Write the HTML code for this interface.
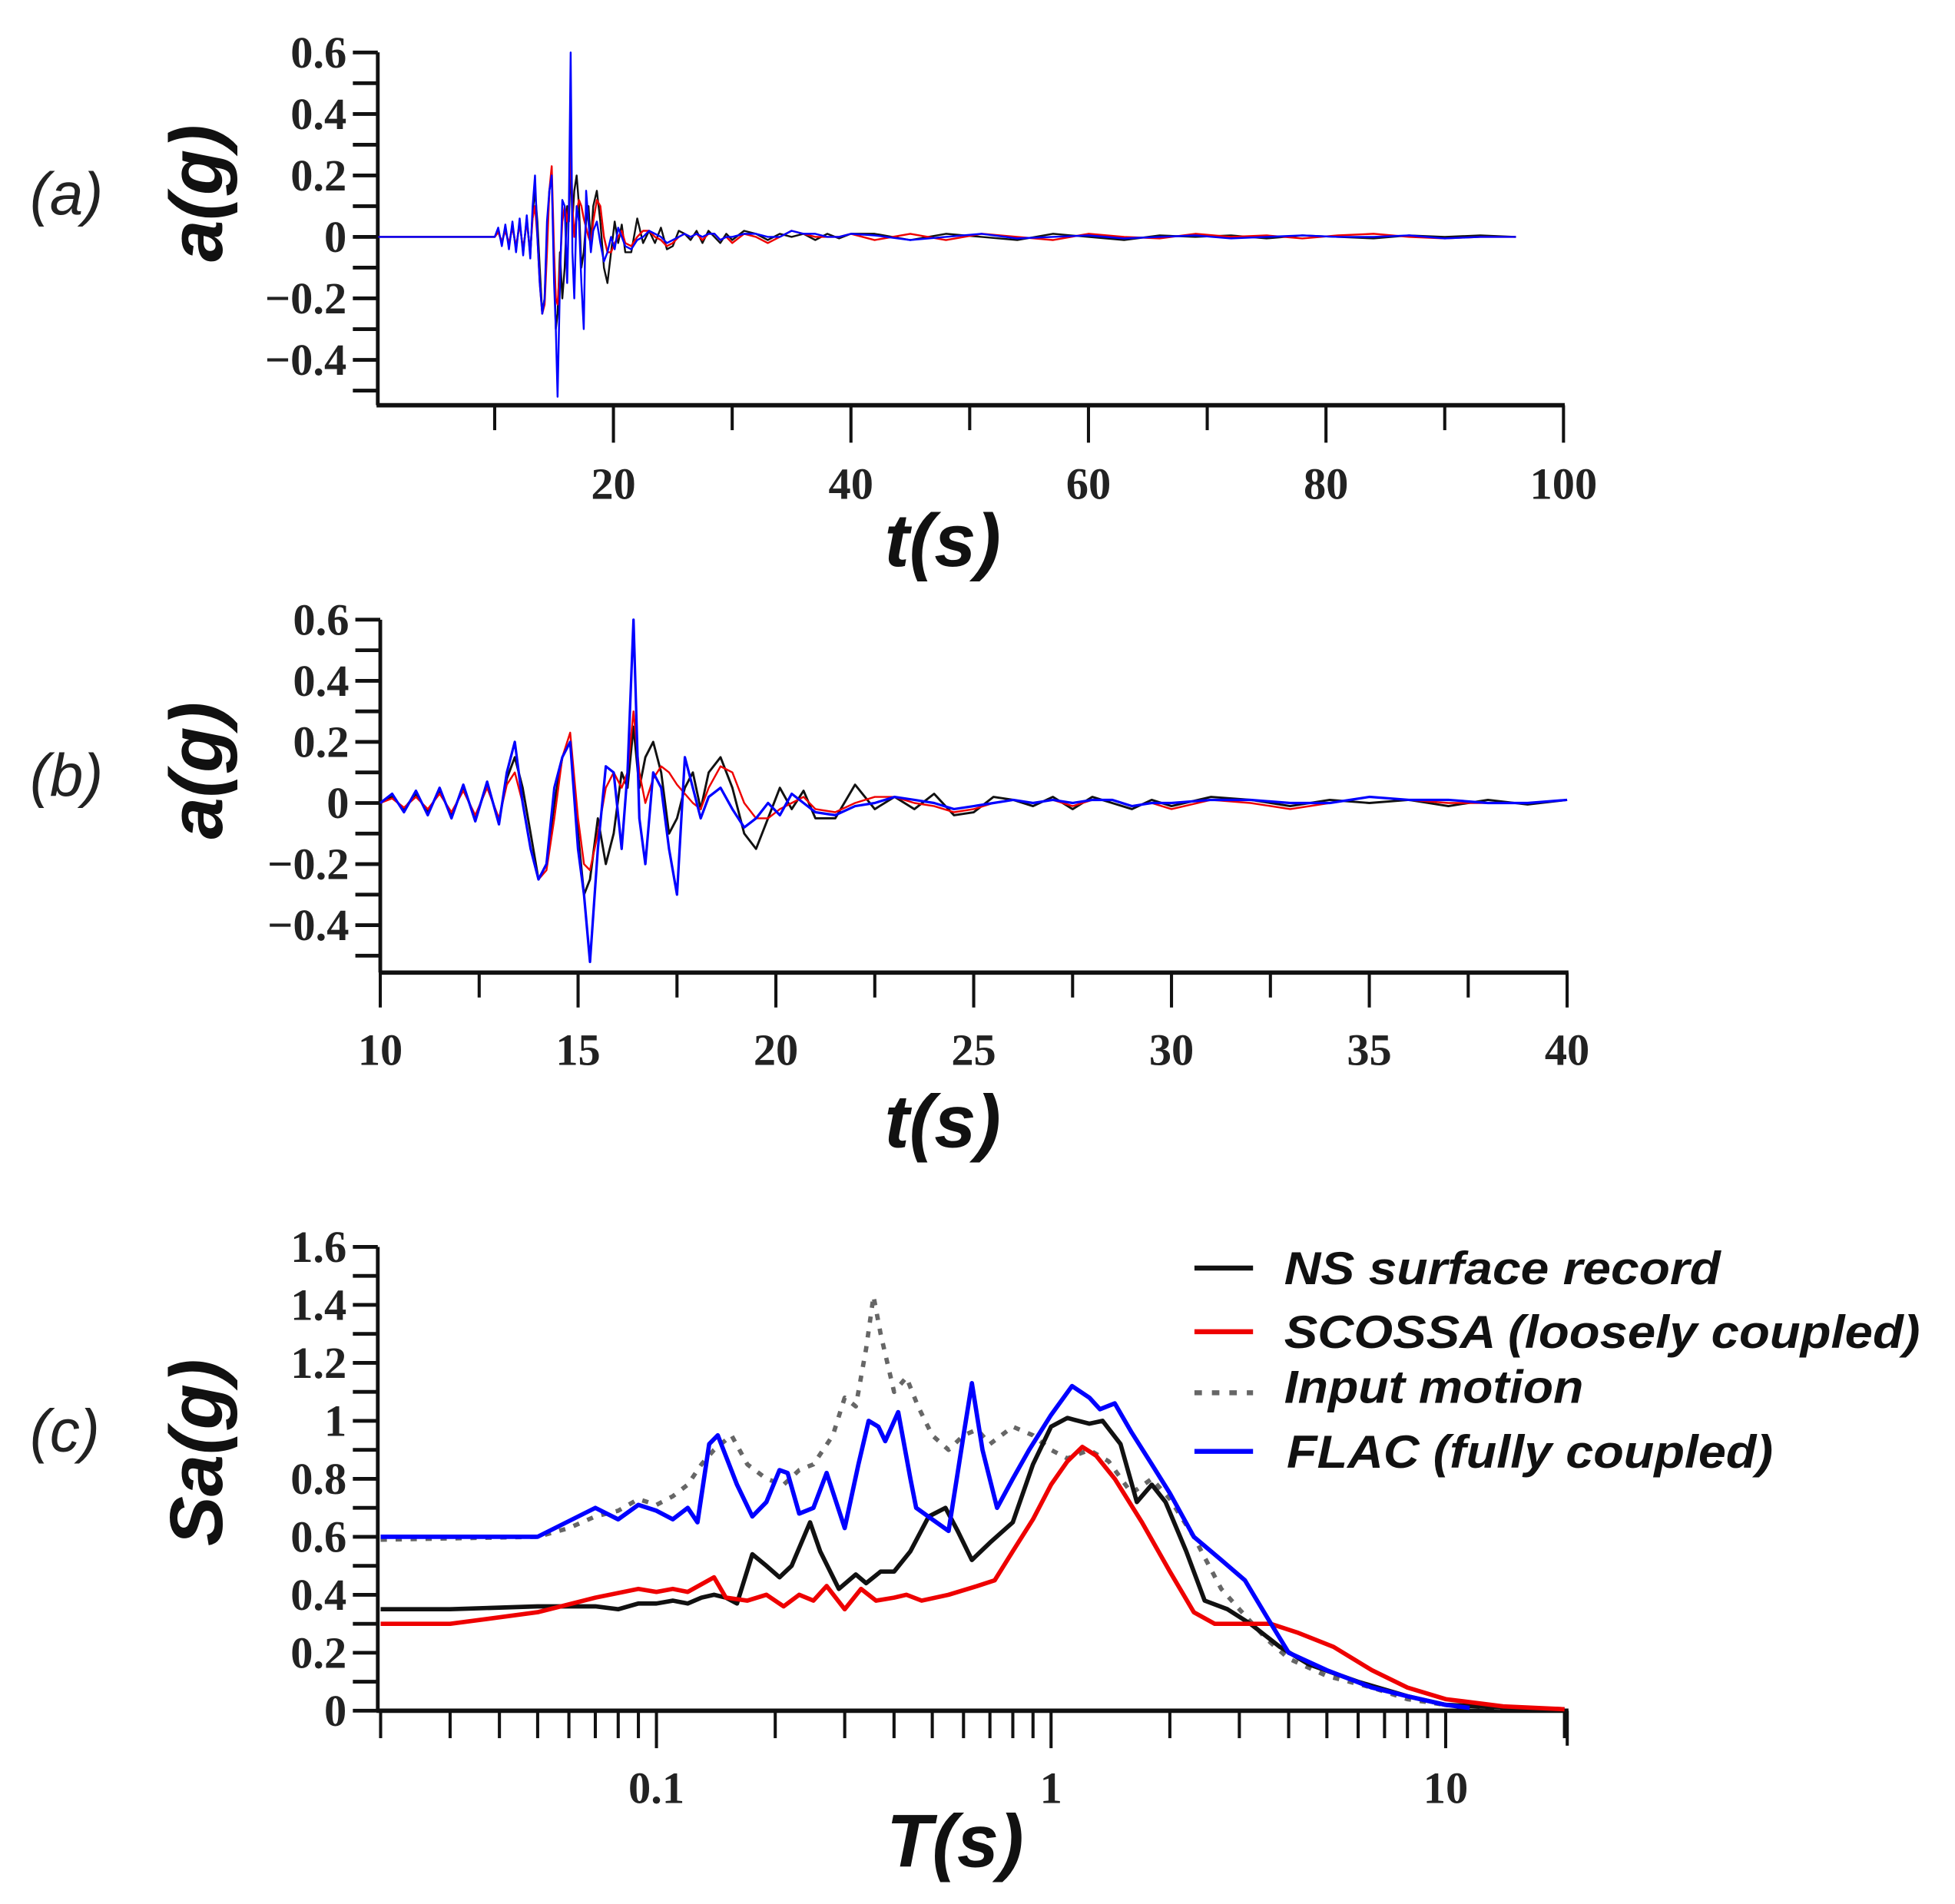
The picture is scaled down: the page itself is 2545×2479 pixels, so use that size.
<!DOCTYPE html>
<html><head><meta charset="utf-8"><style>
html,body{margin:0;padding:0;background:#fff;}
svg{display:block;}
.tl{font-family:"Liberation Serif",serif;font-weight:bold;font-size:36px;fill:#222;}
.tt{font-family:"Liberation Sans",sans-serif;font-weight:bold;font-style:italic;font-size:60px;fill:#111;}
.pl{font-family:"Liberation Sans",sans-serif;font-style:italic;font-size:48px;fill:#222;}
.lg{font-family:"Liberation Sans",sans-serif;font-weight:bold;font-style:italic;font-size:37px;fill:#111;}
</style></head><body>
<svg id="fig" width="2545" height="2479" viewBox="0 0 1568 1527" preserveAspectRatio="none" xmlns="http://www.w3.org/2000/svg">
<g id="pa"></g>
<g id="pb"></g>
<g id="pc"></g>
<text class="pl" x="24" y="172">(a)</text>
<text class="pl" x="24" y="638">(b)</text>
<text class="pl" x="24" y="1164">(c)</text>
<text class="tt" transform="translate(178,155) rotate(-90)" text-anchor="middle">a(g)</text>
<text class="tt" transform="translate(178,618) rotate(-90)" text-anchor="middle">a(g)</text>
<text class="tt" transform="translate(178,1165) rotate(-90)" text-anchor="middle">Sa(g)</text>
<text class="tt" x="756" y="454" text-anchor="middle">t(s)</text>
<text class="tt" x="756" y="920" text-anchor="middle">t(s)</text>
<text class="tt" x="766" y="1497" text-anchor="middle">T(s)</text>
<g>
<g><line x1="958" y1="1017" x2="1005" y2="1017" stroke="#111" stroke-width="4"/><text class="lg" x="1030" y="1030" textLength="350" lengthAdjust="spacingAndGlyphs">NS surface record</text></g>
<g><line x1="958" y1="1068" x2="1005" y2="1068" stroke="#e00" stroke-width="4"/><text class="lg" x="1030" y="1081" textLength="510" lengthAdjust="spacingAndGlyphs">SCOSSA (loosely coupled)</text></g>
<g><line x1="958" y1="1117" x2="1005" y2="1117" stroke="#666" stroke-width="4" stroke-dasharray="6,8"/><text class="lg" x="1030" y="1125" textLength="240" lengthAdjust="spacingAndGlyphs">Input motion</text></g>
<g><line x1="958" y1="1164" x2="1005" y2="1164" stroke="#00f" stroke-width="4"/><text class="lg" x="1032" y="1177" textLength="390" lengthAdjust="spacingAndGlyphs">FLAC (fully coupled)</text></g>
</g>
</svg>
<script>
const tB=[10,10.3,10.6,10.9,11.2,11.5,11.8,12.1,12.4,12.7, 13.0,13.2,13.4,13.6,13.8,14.0,14.2,14.4,14.6,14.8, 15.0,15.15,15.3,15.5,15.7,15.9,16.1,16.25,16.4,16.55, 16.7,16.9,17.1,17.3,17.5,17.7,17.9,18.1,18.3,18.6, 18.9,19.2,19.5,19.8,20.1,20.4,20.7,21.0,21.5,22, 22.5,23,23.5,24,24.5,25,25.5,26,26.5,27, 27.5,28,28.5,29,29.5,30,31,32,33,34, 35,36,37,38,39,40];
const blackA=[0,.02,-.02,.03,-.03,.04,-.04,.05,-.05,.06, -.06,.08,.15,.05,-.1,-.25,-.2,0,.15,.2, -.1,-.3,-.25,-.05,-.2,-.1,.1,.05,.25,.05, .15,.2,.1,-.1,-.05,.05,.1,-.02,.1,.15, .05,-.1,-.15,-.05,.05,-.02,.04,-.05,-.05,.06, -.02,.02,-.02,.03,-.04,-.03,.02,.01,-.01,.02, -.02,.02,0,-.02,.01,-.01,.02,.01,-.01,.01, 0,.01,-.01,.01,-.005,.01];
const redA=[0,.015,-.015,.02,-.02,.03,-.03,.04,-.04,.05, -.05,.06,.1,0,-.15,-.25,-.22,-.05,.15,.23, -.05,-.2,-.22,-.1,.05,.1,.05,.1,.3,.1, 0,.08,.12,.1,.06,.03,0,-.02,.05,.12, .1,0,-.05,-.05,-.02,0,.02,-.02,-.03,0, .02,.02,0,-.01,-.03,-.02,0,.01,0,.01, -.01,.01,.01,-.01,0,-.02,.01,0,-.02,0, .02,.01,0,0,0,.01];
const blueA=[0,.03,-.03,.04,-.04,.05,-.05,.06,-.06,.07, -.07,.1,.2,0,-.15,-.25,-.2,.05,.15,.2, -.15,-.3,-.52,-.15,.12,.1,-.15,.1,.6,-.05, -.2,.1,.05,-.15,-.3,.15,.05,-.05,.02,.05, -.02,-.08,-.05,0,-.04,.03,0,-.03,-.04,-.01, 0,.02,.01,0,-.02,-.01,0,.01,0,.01, 0,.01,.01,-.01,0,0,.01,.01,0,0, .02,.01,.01,0,0,.01];
const tTail=[42,45,48,51,54,57,60,63,66,69,72,75,78,81,84,87,90,93,96];
const blackTail=[.01,-.01,.01,0,-.01,.01,0,-.01,.005,0,.005,-.005,.005,0,-.005,.005,0,.005,0];
const redTail=[-.01,.01,-.01,.01,0,-.01,.01,0,-.005,.01,0,.005,-.005,.005,.01,0,-.005,0,0];
const blueTail=[.005,-.01,0,.01,-.005,0,.005,-.005,0,.005,-.005,0,.005,0,0,.005,-.005,0,0];
const yTicksA=[0.6,0.4,0.2,0,-0.2,-0.4];
const yLabelsA=["0.6","0.4","0.2","0","\u22120.2","\u22120.4"];
const xTicksA=[20,40,60,80,100];
const xTicksB=[10,15,20,25,30,35,40];
const yTicksC=[0,0.2,0.4,0.6,0.8,1,1.2,1.4,1.6];
const yLabelsC=["0","0.2","0.4","0.6","0.8","1","1.2","1.4","1.6"];
const xTicksC=[0.1,1,10];
const Tblue=[0.02,0.05,0.07,0.08,0.09,0.1,0.11,0.12,0.127,0.136,0.143,0.16,0.175,0.19,0.205,0.215,0.23,0.25,0.27,0.3,0.325,0.345,0.365,0.38,0.41,0.44,0.455,0.5,0.55,0.6,0.63,0.67,0.73,0.8,0.88,1.0,1.13,1.25,1.33,1.45,1.6,1.8,2.0,2.3,2.7,3.1,3.5,4.0,5,6.5,8,10,11.5];
const Sblue=[.6,.6,.7,.66,.71,.69,.66,.7,.65,.92,.95,.78,.67,.72,.83,.82,.68,.7,.82,.63,.85,1.0,.98,.93,1.03,.8,.7,.66,.62,.95,1.13,.9,.7,.8,.9,1.02,1.12,1.08,1.04,1.06,.96,.85,.75,.6,.52,.45,.33,.2,.14,.08,.05,.02,.01];
const Tblack=[0.02,0.03,0.05,0.07,0.08,0.09,0.1,0.11,0.12,0.13,0.14,0.15,0.16,0.175,0.19,0.205,0.22,0.245,0.26,0.29,0.32,0.34,0.37,0.4,0.44,0.49,0.54,0.58,0.63,0.7,0.8,0.9,1.0,1.1,1.25,1.35,1.5,1.65,1.8,1.95,2.2,2.45,2.8,3.2,3.8,4.5,6,8,10,15,20];
const Sblack=[.35,.35,.36,.36,.35,.37,.37,.38,.37,.39,.4,.39,.37,.54,.5,.46,.5,.65,.55,.42,.47,.44,.48,.48,.55,.67,.7,.62,.52,.58,.65,.85,.98,1.01,.99,1.0,.92,.72,.78,.72,.55,.38,.35,.3,.22,.16,.1,.05,.02,.01,.005];
const Tred=[0.02,0.03,0.05,0.07,0.09,0.1,0.11,0.12,0.14,0.15,0.17,0.19,0.21,0.23,0.25,0.27,0.3,0.33,0.36,0.4,0.43,0.47,0.55,0.65,0.72,0.8,0.9,1.0,1.1,1.2,1.3,1.45,1.7,2.0,2.3,2.6,3.0,3.6,4.2,5.2,6.5,8,10,14,20];
const Sred=[.3,.3,.34,.39,.42,.41,.42,.41,.46,.39,.38,.4,.36,.4,.38,.43,.35,.42,.38,.39,.4,.38,.4,.43,.45,.55,.66,.78,.86,.91,.88,.8,.65,.48,.34,.3,.3,.3,.27,.22,.14,.08,.04,.015,.005];
const Tinput=[0.02,0.05,0.06,0.07,0.08,0.09,0.1,0.11,0.12,0.13,0.14,0.155,0.17,0.19,0.21,0.23,0.25,0.28,0.3,0.32,0.34,0.355,0.37,0.4,0.43,0.46,0.5,0.55,0.6,0.65,0.7,0.8,0.9,1.0,1.1,1.25,1.4,1.6,1.8,2.0,2.3,2.7,3.0,3.5,4,5,6.5,8,10,14];
const Sinput=[.59,.6,.63,.67,.69,.73,.71,.74,.78,.85,.9,.95,.85,.8,.78,.83,.85,.95,1.08,1.05,1.25,1.43,1.3,1.1,1.15,1.05,.95,.9,.95,.97,.92,.98,.95,.9,.87,.9,.86,.75,.8,.73,.6,.42,.35,.25,.18,.12,.08,.04,.02,.01];

const NS="http://www.w3.org/2000/svg";
function mk(parent,tag,attrs){const e=document.createElementNS(NS,tag);for(const k in attrs)e.setAttribute(k,attrs[k]);parent.appendChild(e);return e;}
function axesBox(g,x0,x1,yTop,yBot){
  const l=mk(g,'line',{x1:x0,y1:yTop,x2:x0,y2:yBot,stroke:'#111','stroke-width':3});
  
  
  const b=mk(g,'line',{x1:x0-1,y1:yBot,x2:x1,y2:yBot,stroke:'#111','stroke-width':3.5});
  
  
}
function yTicks(g,x0,yf,ymin,ymax,step,ticks,labels){
  for(let v=ymin;v<=ymax+1e-9;v+=step){const y=yf(v);mk(g,'line',{x1:x0-20,y1:y,x2:x0,y2:y,stroke:'#111','stroke-width':3});}
  ticks.forEach((v,i)=>{const t=mk(g,'text',{class:'tl',x:x0-25,y:yf(v)+12,'text-anchor':'end'});t.textContent=labels[i];
    
    });
}
function path(g,xs,ys,xf,yf,color,w,name,dash){
  let d='';xs.forEach((x,i)=>{d+=(i?'L':'M')+xf(x).toFixed(1)+','+yf(ys[i]).toFixed(1);});
  const p=mk(g,'path',{d:d,fill:'none',stroke:color,'stroke-width':w,'stroke-linejoin':'round'});
  if(dash)p.setAttribute('stroke-dasharray',dash);
  
  
}
// Panel A
(function(){
  const g=document.getElementById('pa');
  const xf=t=>301.5+9.525*t, yf=v=>190-246.5*v;
  axesBox(g,303,1255,42,325);
  yTicks(g,303,yf,-0.5,0.6,0.1,yTicksA,yLabelsA);
  for(let t=10;t<=100;t+=10){const maj=t%20===0;mk(g,'line',{x1:xf(t),y1:325,x2:xf(t),y2:maj?355:345,stroke:'#111','stroke-width':2.5});}
  xTicksA.forEach(t=>{const e=mk(g,'text',{class:'tl',x:xf(t),y:400,'text-anchor':'middle'});e.textContent=t;
    
    });
  const T=[0.2].concat(tB,tTail);
  path(g,T,[0].concat(blackA,blackTail),xf,yf,'#111',1.5,'series-ns-record');
  path(g,T,[0].concat(redA,redTail),xf,yf,'#e00',1.5,'series-scossa');
  path(g,T,[0].concat(blueA,blueTail),xf,yf,'#00f',1.5,'series-flac');
})();
// Panel B
(function(){
  const g=document.getElementById('pb');
  const xf=t=>305+31.73*(t-10), yf=v=>644-245*v;
  axesBox(g,305,1258,497,780);
  yTicks(g,305,yf,-0.5,0.6,0.1,yTicksA,yLabelsA);
  for(let t=10;t<=40.01;t+=2.5){const maj=t%5===0;mk(g,'line',{x1:xf(t),y1:780,x2:xf(t),y2:maj?808:800,stroke:'#111','stroke-width':2.5});}
  xTicksB.forEach(t=>{const e=mk(g,'text',{class:'tl',x:xf(t),y:854,'text-anchor':'middle'});e.textContent=t;
    
    });
  path(g,tB,blackA,xf,yf,'#111',1.8,'series-ns-record');
  path(g,tB,redA,xf,yf,'#e00',1.5,'series-scossa');
  path(g,tB,blueA,xf,yf,'#00f',2,'series-flac');
})();
// Panel C
(function(){
  const g=document.getElementById('pc');
  const xf=T=>843+316.5*Math.log10(T), yf=v=>1372-232.5*v;
  axesBox(g,303,1258,1000,1372);
  yTicks(g,303,yf,0,1.6,0.1,yTicksC,yLabelsC);
  [0.01,0.1,1,10].forEach(d=>{for(let k=1;k<10;k++){const T=d*k;if(T<0.0199||T>20.1)continue;const maj=(k===1);
    mk(g,'line',{x1:xf(T),y1:1372,x2:xf(T),y2:maj?1402:1394,stroke:'#111','stroke-width':2.5});}});
  mk(g,'line',{x1:1257,y1:1372,x2:1257,y2:1400,stroke:'#111','stroke-width':2.5});
  xTicksC.forEach(t=>{const e=mk(g,'text',{class:'tl',x:xf(t),y:1446,'text-anchor':'middle'});e.textContent=t;
    
    });
  path(g,Tinput,Sinput,xf,yf,'#666',3.5,'series-input-motion','5,7');
  path(g,Tblack,Sblack,xf,yf,'#111',3.5,'series-ns-record');
  path(g,Tred,Sred,xf,yf,'#e00',3.5,'series-scossa');
  path(g,Tblue,Sblue,xf,yf,'#00f',3.5,'series-flac');
})();
</script>
</body></html>
